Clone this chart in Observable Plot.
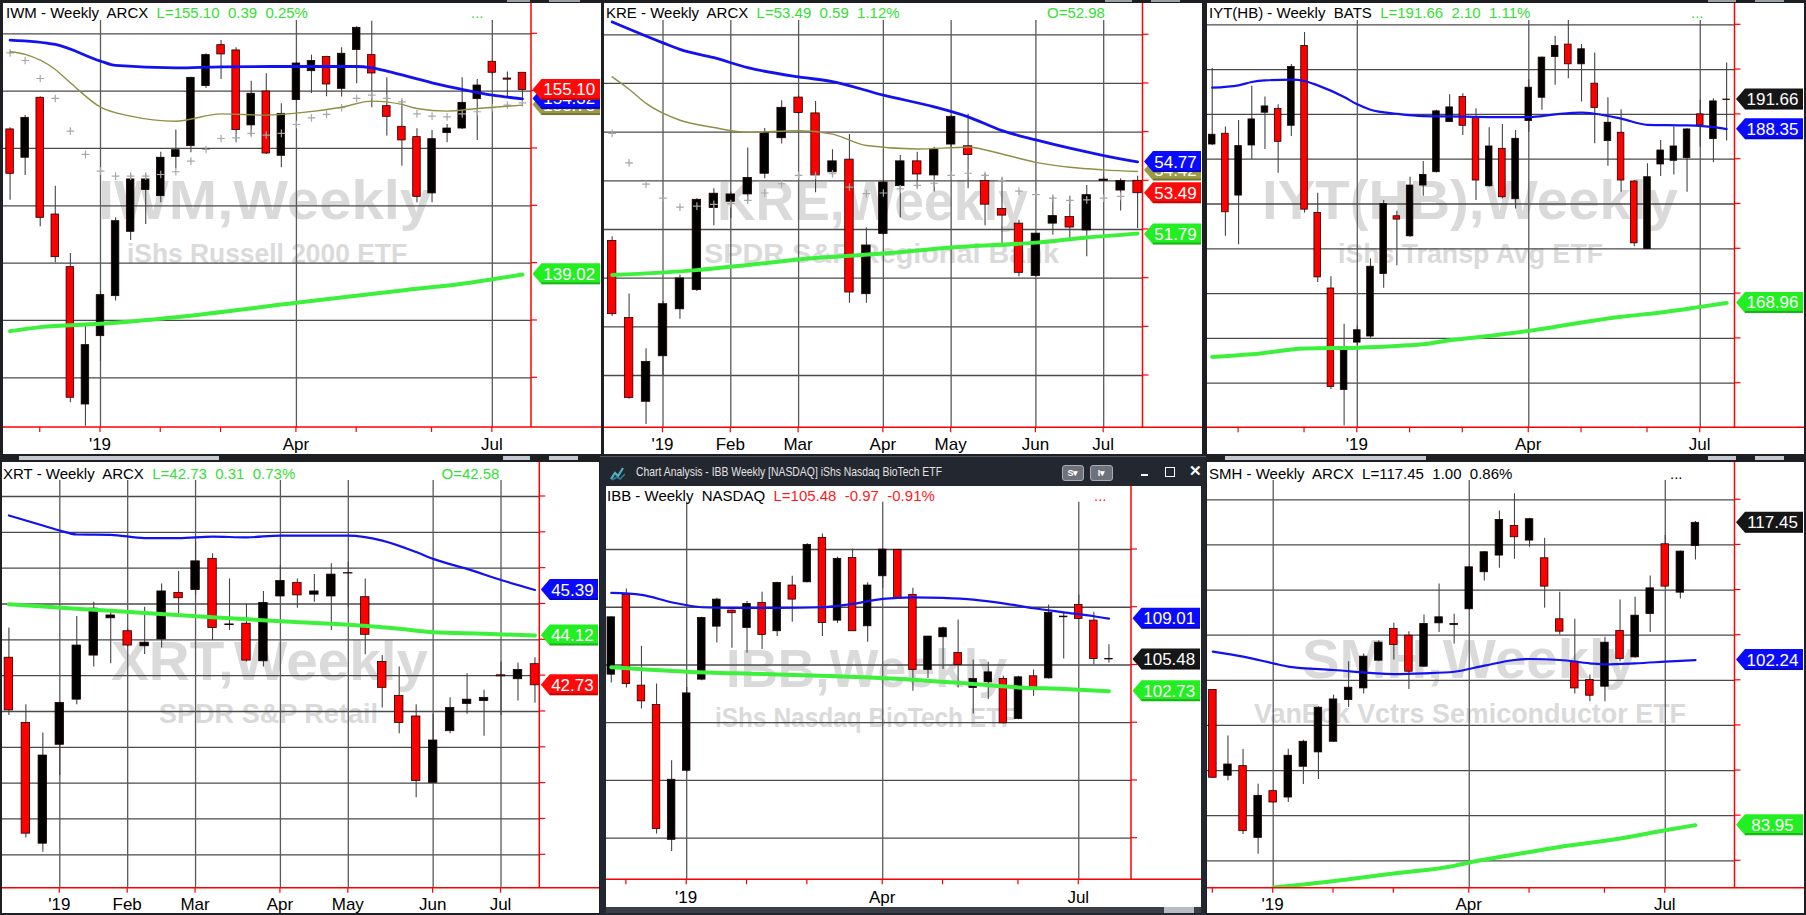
<!DOCTYPE html>
<html><head><meta charset="utf-8">
<script src="https://cdn.jsdelivr.net/npm/d3@7"></script>
<script src="https://cdn.jsdelivr.net/npm/@observablehq/plot@0.6"></script>
<style>
html,body{margin:0;padding:0;background:#1d1f22;width:1806px;height:915px;overflow:hidden;font-family:"Liberation Sans",Arial,sans-serif;}
.panel{position:absolute;background:#fff;overflow:hidden;}
.panel svg{display:block;}
.deco{position:absolute;}
</style></head><body>
<script>
// ---------------- DATA ----------------
// IWM weekly candles [open, high, low, close], from week of 2018-11-19
const iwmStart = "2018-11-19";
const iwmOHLC = [
[151.66,151.80,145.49,147.79],[149.19,152.88,147.65,152.67],[154.42,154.50,143.17,143.95],[144.24,146.71,140.03,140.52],
[139.65,140.84,127.82,128.26],[127.67,134.50,125.78,132.85],[133.63,137.56,131.45,137.21],[137.12,143.95,136.69,143.66],
[142.73,147.73,141.98,147.30],[146.37,147.73,143.37,147.30],[145.84,149.68,145.26,149.19],[149.27,151.60,148.23,149.85],
[150.20,156.22,149.62,156.16],[155.44,158.26,155.23,158.14],[159.01,159.42,156.02,158.20],[158.55,158.78,150.49,151.60],
[152.01,155.87,151.08,154.77],[154.97,156.51,149.48,149.56],[149.36,153.90,148.31,153.02],[154.22,157.47,154.13,157.41],
[156.74,158.14,154.80,157.62],[157.97,158.05,154.51,155.58],[155.20,158.78,154.48,158.26],[158.58,160.61,155.64,160.52],
[158.14,161.10,153.55,156.54],[153.69,156.16,151.08,152.76],[151.89,154.19,148.46,150.70],[150.99,151.72,145.26,145.78],
[146.08,151.57,145.26,150.81],[151.34,152.09,150.49,151.74],[151.74,156.16,151.66,153.98],[154.30,156.02,150.70,155.49],
[157.56,157.65,156.40,156.60],[156.10,156.66,154.50,156.00],[156.60,156.62,153.69,155.10]];
// moving averages as [week index, value]
const iwmBlue = [[0,159.45],[3,159.07],[6,157.62],[7,157.24],[11,157.03],[14,157.12],[19,157.15],[23,157.15],[24,157.03],[25,156.74],[28,155.73],[30,155.15],[32,154.65],[34,154.33]];
const iwmOlive = [[0,158.43],[1,158.20],[3,156.89],[4,155.73],[6,153.60],[8,152.82],[11,152.38],[14,153.02],[17,152.91],[19,153.08],[22,153.60],[24,154.13],[26,153.84],[27,153.49],[29,153.26],[31,153.49],[34,153.78]];
const iwmGreen = [[0,134.07],[2,134.42],[6,134.71],[11,135.29],[19,136.54],[26,137.62],[30,138.20],[34,139.01]];
const iwmPlus = [158.34,157.67,156.10,154.36,151.51,149.48,148.02,147.59,147.59,147.59,147.73,147.97,148.90,149.91,150.87,150.93,151.31,151.16,151.31,152.09,152.67,152.97,153.55,154.36,154.65,154.36,154.07,153.02,152.82,152.76,153.02,153.20,153.55,153.78,153.98];
const iwmGrid = [130,135,140,145,150,155,160];
const iwmTags = [["153.78",153.78,"olive"],["154.32",154.32,"blue"],["155.10",155.10,"red"],["139.02",139.02,"green"]];

// KRE from week of 2018-12-10
const kreStart = "2018-12-10";
const kreOHLC = [
[51.53,51.70,48.42,48.52],[48.36,49.35,45.02,45.08],[44.92,47.10,43.99,46.56],[46.79,49.04,45.97,48.93],
[48.72,50.13,48.31,49.99],[49.51,53.26,49.45,53.22],[52.88,53.67,52.15,53.47],[53.14,53.54,52.45,53.44],
[53.44,55.35,53.13,54.12],[54.29,56.15,54.08,55.96],[55.75,57.29,55.51,57.00],[57.42,57.49,56.74,56.79],
[56.77,57.26,53.51,54.22],[54.35,55.28,54.15,54.80],[54.87,55.90,48.97,49.41],[49.34,52.06,48.97,51.34],
[51.82,54.01,51.76,53.93],[53.78,55.04,52.47,54.80],[54.80,55.17,53.67,54.26],[54.22,55.38,53.54,55.28],
[55.49,56.67,55.38,56.63],[55.42,56.74,53.67,55.06],[53.99,54.29,52.15,53.02],[52.84,54.12,51.40,52.57],
[52.24,52.38,50.06,50.22],[50.09,51.83,50.06,51.83],[52.24,53.37,51.76,52.55],[52.51,53.37,51.63,52.08],
[51.96,53.81,50.88,53.41],[54.00,54.15,53.95,54.05],[53.60,54.08,52.76,53.99],[54.00,54.19,52.04,53.49]];
const kreBlue = [[0,60.53],[3,59.67],[4,59.40],[6,59.06],[8,58.65],[11,58.27],[13,58.08],[16,57.52],[19,57.04],[21,56.63],[23,56.06],[25,55.68],[27,55.34],[29,55.04],[31,54.78]];
const kreOlive = [[0,58.27],[1,57.76],[2,57.18],[4,56.49],[6,56.19],[8,55.99],[11,56.06],[13,55.92],[15,55.45],[18,55.31],[21,55.38],[23,55.10],[25,54.76],[27,54.56],[29,54.45],[31,54.38]];
const kreGreen = [[0,50.13],[5,50.33],[8,50.54],[11,50.77],[16,51.01],[20,51.26],[25,51.46],[28,51.67],[31,51.83]];
const krePlus = [55.95,54.74,53.86,53.29,52.92,52.96,53.03,53.06,53.20,53.50,53.88,54.22,54.22,54.29,53.74,53.47,53.50,53.67,53.81,53.90,54.22,54.31,54.22,54.01,53.58,53.43,53.29,53.20,53.22,53.29,53.36];
const kreGrid = [46,48,50,52,54,56,58,60];
const kreTags = [["54.42",54.42,"olive"],["54.77",54.77,"blue"],["53.49",53.49,"red"],["51.79",51.79,"green"]];

// IYT from week of 2018-10-15
const iytStart = "2018-10-15";
const iytOHLC = [
[186.64,195.11,186.53,187.73],[187.84,188.58,176.39,179.08],[180.94,189.33,175.46,186.46],[186.53,193.13,184.97,189.44],
[190.19,191.94,186.09,190.89],[190.60,191.08,183.44,186.94],[188.73,195.56,187.54,195.29],[197.64,199.13,179.00,179.37],
[179.00,181.20,171.25,171.81],[170.57,171.88,159.31,159.57],[159.24,166.58,155.21,163.71],[164.53,166.40,164.20,165.91],
[165.21,173.86,165.02,173.00],[172.18,180.38,170.61,180.01],[178.63,179.19,173.11,178.26],[176.39,182.99,176.28,182.06],
[182.06,184.74,180.86,183.25],[183.55,190.45,183.47,190.34],[189.14,192.20,189.11,190.78],[191.94,192.31,187.65,188.73],
[189.70,190.63,180.38,182.62],[181.98,188.51,181.87,186.42],[186.16,188.88,180.57,180.75],[180.53,188.21,179.45,187.28],
[189.25,193.88,188.02,192.98],[191.86,196.41,190.45,196.34],[196.41,198.72,193.24,197.64],[197.79,200.51,193.99,195.59],
[195.59,197.79,191.38,197.27],[193.43,196.86,186.72,190.71],[187.02,191.86,184.22,189.07],[187.95,190.52,181.31,182.62],
[182.51,182.62,175.23,175.61],[174.97,184.48,174.97,182.99],[184.41,187.09,183.06,185.97],[184.82,188.58,183.25,186.42],
[185.12,188.40,181.31,188.32],[190.00,191.57,186.35,188.77],[187.24,191.75,184.59,191.45],[191.60,195.74,187.02,191.66]];
const iytBlue = [[0,192.98],[2,193.24],[3,193.62],[4,193.80],[6,193.88],[7,193.73],[8,193.24],[10,191.94],[11,191.12],[12,190.52],[14,190.07],[16,189.81],[18,189.78],[21,189.70],[24,189.70],[26,190.00],[28,190.19],[29,190.07],[31,189.52],[33,188.84],[36,188.77],[38,188.58],[39,188.35]];
const iytGreen = [[0,162.93],[3,163.23],[7,163.86],[11,163.97],[14,164.16],[16,164.35],[18,164.79],[21,165.28],[24,165.84],[26,166.29],[28,166.77],[31,167.41],[34,167.89],[37,168.52],[39,168.96]];
const iytGrid = [160,165,170,175,180,185,190,195,200];
const iytTags = [["191.66",191.66,"black"],["188.35",188.35,"blue"],["168.96",168.96,"green"]];

// XRT from week of 2018-12-10
const xrtStart = "2018-12-10";
const xrtOHLC = [
[43.50,44.33,41.89,42.03],[41.68,42.19,38.47,38.59],[38.31,41.40,38.07,40.77],[41.07,42.26,40.21,42.24],
[42.33,44.65,42.19,43.84],[43.56,45.05,43.24,44.87],[44.60,44.77,43.33,44.68],[44.24,44.31,43.80,43.84],
[43.82,44.91,43.59,43.92],[44.01,45.56,43.77,45.35],[45.31,45.91,44.73,45.16],[45.39,46.73,45.24,46.19],
[46.26,46.40,43.98,44.33],[44.43,45.70,44.26,44.41],[44.45,45.00,43.38,43.42],[43.40,45.35,43.24,45.03],
[45.21,46.07,45.19,45.64],[45.59,45.70,44.88,45.24],[45.26,45.82,45.05,45.35],[45.21,46.12,44.26,45.82],
[45.85,46.17,44.91,45.86],[45.19,45.70,43.58,44.14],[43.38,43.56,42.10,42.66],[42.43,43.24,41.38,41.68],
[41.86,42.19,39.59,40.06],[40.01,41.92,40.01,41.19],[41.45,42.38,41.38,42.10],[42.21,43.05,41.92,42.33],
[42.29,42.59,41.31,42.38],[43.01,43.38,41.89,42.98],[42.90,43.35,42.29,43.16],[43.32,43.50,42.23,42.73]];
const xrtBlue = [[0,47.47],[2,47.19],[3,47.05],[4,46.94],[6,46.93],[8,46.84],[10,46.84],[12,46.88],[14,46.86],[16,46.91],[18,46.91],[20,46.91],[22,46.77],[24,46.45],[25,46.26],[27,45.98],[29,45.67],[31,45.39]];
const xrtGreen = [[0,44.99],[4,44.87],[8,44.75],[12,44.63],[16,44.52],[20,44.42],[23,44.31],[25,44.21],[28,44.17],[31,44.12]];
const xrtGrid = [38,39,40,41,42,43,44,45,46,47,48];
const xrtTags = [["45.39",45.39,"blue"],["44.12",44.12,"green"],["42.73",42.73,"red"]];

// IBB from week of 2018-11-26
const ibbStart = "2018-11-26";
const ibbOHLC = [
[104.16,109.13,103.44,109.13],[111.07,111.59,103.01,103.35],[103.21,106.62,101.19,101.85],[101.53,103.35,90.36,90.79],
[89.86,96.71,88.85,95.06],[95.84,103.06,95.70,102.54],[103.73,109.13,103.64,109.07],[108.32,110.78,106.91,110.66],
[109.71,109.77,106.44,109.48],[108.21,110.49,106.01,110.29],[110.37,111.30,106.33,107.60],[107.92,112.16,107.46,112.11],
[111.88,112.68,108.70,110.66],[112.16,115.49,112.11,115.40],[116.01,116.35,107.46,108.64],[108.84,114.33,108.60,114.19],
[114.27,115.05,107.89,107.92],[108.35,112.11,106.96,111.88],[112.68,115.05,111.64,114.99],[114.97,114.99,110.72,110.81],
[111.07,111.64,102.72,104.57],[104.57,107.46,103.84,107.46],[107.40,108.26,104.60,108.18],[106.04,108.90,103.01,105.00],
[103.01,105.43,100.75,103.79],[103.50,105.23,102.00,104.36],[103.79,104.02,99.89,99.95],[100.32,104.02,100.26,103.93],
[104.02,104.57,102.28,102.83],[103.84,110.20,103.79,109.51],[109.19,109.56,105.52,109.13],[110.20,111.07,108.93,108.99],
[108.84,109.56,105.03,105.52],[105.52,106.76,105.17,105.48]];
const ibbBlue = [[0,111.24],[2,111.07],[4,110.43],[6,110.00],[8,109.94],[11,109.94],[14,110.00],[16,110.29],[18,110.72],[20,110.86],[22,110.81],[24,110.66],[26,110.34],[28,109.91],[30,109.56],[32,109.22],[33,109.01]];
const ibbGreen = [[0,104.80],[5,104.42],[10,104.22],[15,104.02],[20,103.73],[24,103.35],[27,103.06],[30,102.92],[33,102.73]];
const ibbGrid = [90,95,100,105,110,115];
const ibbTags = [["109.01",109.01,"blue"],["105.48",105.48,"black"],["102.73",102.73,"green"]];

// SMH from week of 2018-12-03
const smhStart = "2018-12-03";
const smhOHLC = [
[98.92,98.99,89.12,89.20],[89.42,93.82,88.86,90.67],[90.49,92.34,82.91,83.28],[82.54,88.49,80.73,87.20],
[87.72,87.83,86.35,86.46],[87.01,92.37,86.46,91.64],[90.42,93.37,88.46,93.19],[92.01,97.07,89.01,96.96],
[93.19,98.36,93.11,97.88],[97.81,102.06,97.00,99.18],[99.10,102.91,98.47,102.62],[102.17,104.39,102.06,104.17],
[105.68,106.31,102.25,103.91],[104.94,105.39,98.99,100.95],[101.51,107.24,101.43,106.24],[106.31,110.67,105.31,106.98],
[106.13,107.31,104.02,106.24],[107.87,112.60,107.79,112.52],[111.97,114.26,111.01,114.19],[113.82,118.77,112.41,117.77],
[117.11,120.66,113.41,115.85],[115.48,117.96,114.74,117.85],[113.52,115.74,107.98,110.38],[106.76,109.75,105.02,105.39],
[102.06,106.76,98.47,99.10],[100.03,100.58,97.62,98.29],[99.29,104.76,97.62,104.17],[105.46,108.90,102.06,102.36],
[102.54,109.20,102.43,107.16],[107.35,111.56,105.31,110.19],[115.07,116.04,110.31,110.38],[109.71,114.33,109.01,114.26],
[114.89,117.59,113.34,117.45]];
const smhBlue = [[0,103.17],[2,102.62],[4,101.88],[5,101.51],[8,101.14],[12,100.69],[14,100.77],[16,100.95],[18,101.62],[20,102.25],[21,102.36],[23,102.25],[25,101.88],[26,101.77],[28,101.88],[30,102.06],[32,102.24]];
const smhGreen = [[4,77.05],[6,77.37],[9,77.96],[12,78.59],[16,79.44],[17,79.81],[20,80.69],[23,81.54],[27,82.47],[30,83.39],[32,83.95]];
const smhGrid = [80,85,90,95,100,105,110,115,120];
const smhTags = [["117.45",117.45,"black"],["102.24",102.24,"blue"],["83.95",83.95,"green"]];

// month ticks / labels
const ticksA = ["2018-12-03","2018-12-31","2019-01-28","2019-02-25","2019-04-01","2019-04-29","2019-06-03","2019-07-01"];
const ticksM = ["2018-12-31","2019-01-28","2019-02-25","2019-04-01","2019-04-29","2019-06-03","2019-07-01"];
const ticksY = ["2018-10-29","2018-12-03","2018-12-31","2019-01-28","2019-02-25","2019-04-01","2019-04-29","2019-06-03","2019-07-01"];
const labelsQ = [["2018-12-31","'19"],["2019-04-01","Apr"],["2019-07-01","Jul"]];
const labelsM = [["2018-12-31","'19"],["2019-01-28","Feb"],["2019-02-25","Mar"],["2019-04-01","Apr"],["2019-04-29","May"],["2019-06-03","Jun"],["2019-07-01","Jul"]];

// ---------------- STYLE ----------------
const FONT = "'Liberation Sans', Arial, sans-serif";
const C = {red:"#ff0a0a", blue:"#0a0aff", green:"#22ee22", black:"#161616", olive:"#9b9b45"};
const GREEN_TXT = "#33e033";
const DAY = 864e5, WEEK = 7*DAY, REF = Date.UTC(2018,11,31);
const dt = s => new Date(s + "T00:00:00Z");
const NS = "http://www.w3.org/2000/svg";
function el(tag, attrs, parent){const e=document.createElementNS(NS,tag);for(const k in attrs)e.setAttribute(k,attrs[k]);if(parent)parent.appendChild(e);return e;}

const panels = [
 {start:iwmStart, ohlc:iwmOHLC, grid:iwmGrid, tags:iwmTags, plus:iwmPlus, ticks:ticksA, labels:labelsQ, vgrid:labelsQ.map(d=>d[0]),
  lines:[[iwmOlive,"#8f8f45",1.4],[iwmBlue,"#1212f0",2.8],[iwmGreen,"#3cf03c",4]],
  box:[3,3,598,451], redX:531, axisY:427, vTop:20, gridRef:[160,33.3,130,377.3], x0:100, step:15.07, labelY:450,
  title:{x:6,y:18.3,parts:[["IWM - Weekly  ARCX  ","#000"],["L=155.10  0.39  0.25%",GREEN_TXT]],extra:[["...",471,GREEN_TXT]]},
  wm:[["IWM,Weekly",98,219,334,56],["iShs Russell 2000 ETF",127,263,280,27]]},
 {start:kreStart, ohlc:kreOHLC, grid:kreGrid, tags:kreTags, plus:krePlus, ticks:ticksM, labels:labelsM, vgrid:ticksM,
  lines:[[kreOlive,"#8f8f45",1.4],[kreBlue,"#1212f0",2.8],[kreGreen,"#3cf03c",4]],
  box:[604,3,598,451], redX:1142.5, axisY:427.3, vTop:20, gridRef:[60,34.3,46,375], x0:662.5, step:16.95, labelY:450,
  title:{x:606,y:18.3,parts:[["KRE - Weekly  ARCX  ","#000"],["L=53.49  0.59  1.12%",GREEN_TXT]],extra:[["O=52.98",1047,GREEN_TXT]]},
  wm:[["KRE,Weekly",717,220,311,56],["SPDR S&P Regional Bank",704,263,355,27]]},
 {start:iytStart, ohlc:iytOHLC, grid:iytGrid, tags:iytTags, ticks:ticksY, labels:labelsQ, vgrid:labelsQ.map(d=>d[0]),
  lines:[[iytBlue,"#1212f0",2.2],[iytGreen,"#3cf03c",4]],
  box:[1207,3,597,451], redX:1734.5, axisY:427.3, vTop:20, gridRef:[200,24.3,160,382.7], x0:1356.8, step:13.19, labelY:450,
  title:{x:1209,y:18.3,parts:[["IYT(HB) - Weekly  BATS  ","#000"],["L=191.66  2.10  1.11%",GREEN_TXT]],extra:[["...",1691,GREEN_TXT]]},
  wm:[["IYT(HB),Weekly",1262,219,416,56],["iShs Transp Avg ETF",1338,263,265,27]]},
 {start:xrtStart, ohlc:xrtOHLC, grid:xrtGrid, tags:xrtTags, ticks:ticksM, labels:labelsM, vgrid:ticksM,
  lines:[[xrtBlue,"#1212f0",2.2],[xrtGreen,"#3cf03c",4]],
  box:[2,462,597,451], redX:539.3, axisY:887.7, vTop:480, gridRef:[48,496,38,854.3], x0:59.3, step:16.97, labelY:909.5,
  title:{x:3,y:478.5,parts:[["XRT - Weekly  ARCX  ","#000"],["L=42.73  0.31  0.73%",GREEN_TXT]],extra:[["O=42.58",441.5,GREEN_TXT]]},
  wm:[["XRT,Weekly",111,680,317,56],["SPDR S&P Retail",159,723,219,27]]},
 {start:ibbStart, ohlc:ibbOHLC, grid:ibbGrid, tags:ibbTags, ticks:ticksA, labels:labelsQ, vgrid:labelsQ.map(d=>d[0]),
  lines:[[ibbBlue,"#1212f0",2.2],[ibbGreen,"#3cf03c",4]],
  box:[606,486,595,421], redX:1131, axisY:879.3, vTop:501.7, gridRef:[115,549,90,837.7], x0:686.2, step:15.08, labelY:902.5,
  title:{x:607,y:500.5,parts:[["IBB - Weekly  NASDAQ  ","#000"],["L=105.48  -0.97  -0.91%","#ff1a1a"]],extra:[["...",1094,"#ff1a1a"]]},
  wm:[["IBB,Weekly",726,687,281,54],["iShs Nasdaq BioTech ETF",715,727,301,27]]},
 {start:smhStart, ohlc:smhOHLC, grid:smhGrid, tags:smhTags, ticks:ticksA, labels:labelsQ, vgrid:labelsQ.map(d=>d[0]),
  lines:[[smhBlue,"#1212f0",2.2],[smhGreen,"#3cf03c",4]],
  box:[1207,462,597,451], redX:1734.5, axisY:887.7, vTop:480, gridRef:[120,499.3,80,860.3], x0:1272.7, step:15.08, labelY:909.5,
  title:{x:1209,y:478.5,parts:[["SMH - Weekly  ARCX  L=117.45  1.00  0.86%","#000"]],extra:[["...",1670,"#000"]]},
  wm:[["SMH,Weekly",1302,678,334,56],["VanEck Vctrs Semiconductor ETF",1254,723,432,27]]}
];

function makePanel(p){
  const [L,T,W,H] = p.box;
  const mr = L + W - p.redX, mt = p.vTop - T, mb = T + H - p.axisY;
  const [g0,p0,g1,p1] = p.gridRef;
  const yv = ya => g0 + (ya - p0) * (g1 - g0) / (p1 - p0);
  const xd = xa => new Date(REF + (xa - p.x0) / p.step * WEEK);
  const t0 = dt(p.start).getTime();
  const candles = p.ohlc.map(([o,h,l,c],i)=>({date:new Date(t0+i*WEEK),o,h,l,c}));
  const half = 0.25*WEEK;
  const toPts = arr => arr.map(([i,v])=>({date:new Date(t0+i*WEEK),v}));

  const back = (index, scales, values, dims) => {
    const g = el("g",{"text-anchor":"start"});
    for (const [s,x,y,w,fs] of p.wm){
      const t = el("text",{x:x-L,y:y-T,"text-anchor":"start","font-family":FONT,"font-weight":"bold","font-size":fs,fill:"#dadada",textLength:w,lengthAdjust:"spacingAndGlyphs"},g);
      t.textContent = s;
    }
    return g;
  };
  const front = (index, scales, values, dims) => {
    const {x, y} = scales;
    const g = el("g",{"text-anchor":"start"});
    const wR = dims.width - dims.marginRight, yB = dims.height - dims.marginBottom;
    el("line",{x1:wR,x2:wR,y1:0,y2:yB,stroke:"#ff0000","stroke-width":1.5},g);
    el("line",{x1:0,x2:dims.width,y1:yB,y2:yB,stroke:"#ff0000","stroke-width":1.5},g);
    for (const v of p.grid){const yy=y(v);el("line",{x1:wR,x2:wR+6,y1:yy,y2:yy,stroke:"#ff0000","stroke-width":1.2},g);}
    for (const s of p.ticks){const xx=x(dt(s)); if(xx<0||xx>wR) continue; el("line",{x1:xx,x2:xx,y1:yB,y2:yB+5,stroke:"#ff0000","stroke-width":1.2},g);}
    for (const [s,lab] of p.labels){const t=el("text",{x:x(dt(s)),y:p.labelY-T,"text-anchor":"middle","font-family":FONT,"font-size":17,fill:"#000"},g);t.textContent=lab;}
    // title
    const tt = el("text",{x:p.title.x-L,y:p.title.y-T,"text-anchor":"start","font-family":FONT,"font-size":15,style:"white-space:pre"},g);
    for (const [s,col] of p.title.parts){const sp=el("tspan",{fill:col},tt);sp.textContent=s;}
    for (const [s,xx,col] of p.title.extra){const t=el("text",{x:xx-L,y:p.title.y-T,"text-anchor":"start","font-family":FONT,"font-size":15,fill:col},g);t.textContent=s;}
    // tags
    const x0 = wR + 1.5, x1 = dims.width - 1, hh = 10.5;
    for (const [lab,v,col] of p.tags){
      const yy = y(v);
      el("path",{d:`M${x0},${yy}L${x0+9},${yy-hh}L${x1},${yy-hh}L${x1},${yy+hh}L${x0+9},${yy+hh}Z`,fill:C[col]},g);
      el("rect",{x:x0+9,y:yy+hh-2,width:x1-x0-9,height:2,fill:"rgba(0,0,0,0.25)"},g);
      const t=el("text",{x:(x0+x1)/2+3,y:yy+6,"text-anchor":"middle","font-family":FONT,"font-size":17,fill:"#fff"},g);
      t.textContent = lab;
    }
    return g;
  };

  const marks = [
    back,
    Plot.ruleY(p.grid,{stroke:"#4a4a4a",strokeWidth:1.3}),
    Plot.ruleX(p.vgrid.map(dt),{stroke:"#5a5a5a",strokeWidth:1.3}),
    Plot.ruleX(candles,{x:"date",y1:"l",y2:"h",stroke:"#444",strokeWidth:1.1,clip:true}),
    Plot.rect(candles,{x1:d=>new Date(+d.date-half),x2:d=>new Date(+d.date+half),
      y1:d=>Math.min(d.o,d.c),y2:d=>Math.max(d.o,d.c),
      fill:d=>d.c>=d.o?"#000000":"#ff0000",stroke:"#200000",strokeWidth:0.8,clip:true})
  ];
  if (p.plus) marks.push(Plot.dot(p.plus.map((v,i)=>({date:new Date(t0+i*WEEK),v})),{x:"date",y:"v",symbol:"plus",r:2.6,stroke:"#a8a8a8",strokeWidth:1.2,clip:true}));
  for (const [pts,col,w] of p.lines) marks.push(Plot.line(toPts(pts),{x:"date",y:"v",stroke:col,strokeWidth:w,curve:"monotone-x",clip:true}));
  marks.push(front);

  const svg = Plot.plot({
    width:W, height:H, marginLeft:0, marginRight:mr, marginTop:mt, marginBottom:mb,
    x:{type:"utc",domain:[xd(L),xd(p.redX)],axis:null},
    y:{domain:[yv(p.axisY),yv(p.vTop)],axis:null},
    color:{type:"identity"},
    style:{background:"#fff",overflow:"hidden"},
    marks
  });
  const div = document.createElement("div");
  div.className = "panel";
  Object.assign(div.style,{left:L+"px",top:T+"px",width:W+"px",height:H+"px"});
  div.appendChild(svg);
  document.body.appendChild(div);
}

// IBB window chrome (drawn first, panel on top)
function deco(css, html){const d=document.createElement("div");d.className="deco";Object.assign(d.style,css);if(html)d.innerHTML=html;document.body.appendChild(d);return d;}
deco({left:"600px",top:"456px",width:"606px",height:"459px",background:"#23272f",borderTop:"1px solid #50555e"});
deco({left:"610px",top:"465px",width:"16px",height:"16px"},
 '<svg width="16" height="16"><path d="M1,14L5,8L8,11L13,3" stroke="#4fb0c6" stroke-width="2.2" fill="none"/><path d="M2,15L7,12L10,14L15,9" stroke="#2e7f9a" stroke-width="1.6" fill="none"/></svg>');
deco({left:"636px",top:"464px",color:"#e4e4e4",fontFamily:FONT,fontSize:"13.5px",whiteSpace:"pre",transform:"scaleX(0.77)",transformOrigin:"0 0"},"Chart Analysis - IBB Weekly [NASDAQ] iShs Nasdaq BioTech ETF");
deco({left:"1062px",top:"465px",width:"20px",height:"14px",background:"#6d727b",border:"1px solid #a9adb3",borderRadius:"3px",color:"#fff",fontFamily:FONT,fontSize:"9px",fontWeight:"bold",lineHeight:"14px",textAlign:"center",whiteSpace:"pre"},"S&#9662;");
deco({left:"1090px",top:"465px",width:"21px",height:"14px",background:"#6d727b",border:"1px solid #a9adb3",borderRadius:"3px",color:"#fff",fontFamily:FONT,fontSize:"9px",fontWeight:"bold",lineHeight:"14px",textAlign:"center",whiteSpace:"pre"},"I&#9662;");
deco({left:"1141px",top:"474px",width:"7px",height:"2px",background:"#fff"});
deco({left:"1165px",top:"467px",width:"8px",height:"8px",border:"1.5px solid #fff"});
deco({left:"1189px",top:"462px",color:"#fff",fontFamily:FONT,fontSize:"15px",fontWeight:"bold"},"&#x2715;");
deco({left:"606px",top:"907px",width:"595px",height:"6px",background:"#3b3e45"});
deco({left:"1164px",top:"907px",width:"30px",height:"6px",background:"#b9bcc2"});
// scroll thumbs between rows
for (const [x,w] of [[19,200],[503,27],[549,29],[1225,201],[1708,28],[1755,29]]) deco({left:x+"px",top:"456px",width:w+"px",height:"4px",background:"#c4c9d2"});
for (const [x,w] of [[507,23],[549,31],[1105,27],[1151,29],[1708,28],[1755,29]]) deco({left:x+"px",top:"0px",width:w+"px",height:"2px",background:"#9aa0aa"});

for (const p of panels) makePanel(p);
</script>
</body></html>
